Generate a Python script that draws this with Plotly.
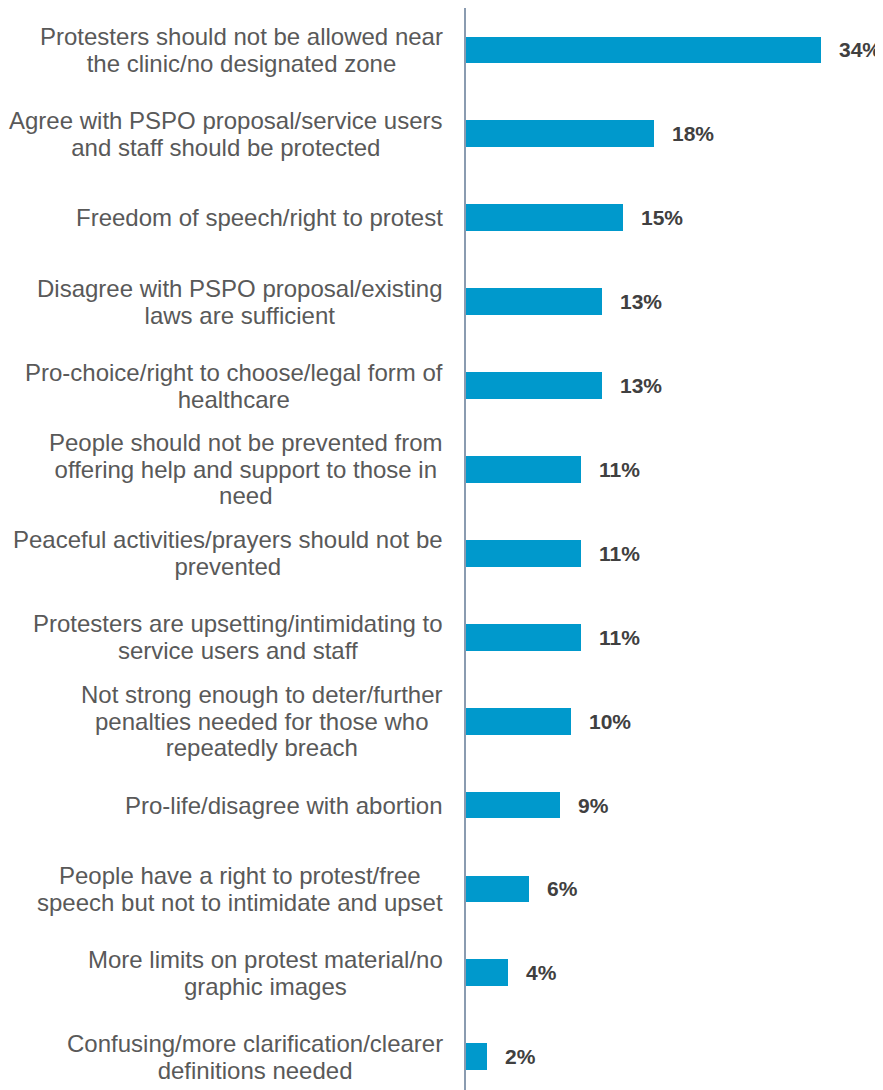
import plotly.graph_objects as go

categories = [
    "Protesters should not be allowed near<br>the clinic/no designated zone",
    "Agree with PSPO proposal/service users<br>and staff should be protected",
    "Freedom of speech/right to protest",
    "Disagree with PSPO proposal/existing<br>laws are sufficient",
    "Pro-choice/right to choose/legal form of<br>healthcare",
    "People should not be prevented from<br>offering help and support to those in<br>need",
    "Peaceful activities/prayers should not be<br>prevented",
    "Protesters are upsetting/intimidating to<br>service users and staff",
    "Not strong enough to deter/further<br>penalties needed for those who<br>repeatedly breach",
    "Pro-life/disagree with abortion",
    "People have a right to protest/free<br>speech but not to intimidate and upset",
    "More limits on protest material/no<br>graphic images",
    "Confusing/more clarification/clearer<br>definitions needed",
]
values = [34, 18, 15, 13, 13, 11, 11, 11, 10, 9, 6, 4, 2]
value_labels = ["34%", "18%", "15%", "13%", "13%", "11%", "11%", "11%", "10%", "9%", "6%", "4%", "2%"]

positions = list(range(len(categories)))

BAR_COLOR = "#0099CC"
FONT = "Liberation Sans, Arial, sans-serif"

fig = go.Figure()
fig.add_trace(go.Bar(
    x=values,
    y=positions,
    orientation="h",
    width=0.32,
    marker=dict(color=BAR_COLOR, line=dict(width=0)),
    hoverinfo="skip",
))

annotations = []
for pos, cat in zip(positions, categories):
    lines = cat.split("<br>")
    txt = "<br>".join('<span style="font-size:24px">' + ln + "</span>" for ln in lines)
    annotations.append(dict(
        xref="paper", yref="y", x=0, y=pos,
        xanchor="right", yanchor="middle", xshift=-21,
        text=txt, showarrow=False, align="center",
        font=dict(family=FONT, size=20.5, color="#595959"),
    ))
for pos, v, lab in zip(positions, values, value_labels):
    annotations.append(dict(
        xref="x", yref="y", x=v, y=pos,
        xanchor="left", yanchor="middle", xshift=16,
        text="<b>" + lab + "</b>", showarrow=False,
        font=dict(family=FONT, size=21, color="#404040"),
    ))

fig.update_layout(
    width=875, height=1082,
    margin=dict(l=458, r=0, t=0, b=0, pad=0),
    paper_bgcolor="white", plot_bgcolor="white",
    showlegend=False,
    bargap=0,
    annotations=annotations,
    xaxis=dict(range=[0, 39.9], visible=False, fixedrange=True),
    yaxis=dict(range=[12.396, -0.5], showticklabels=False, ticks="",
               showgrid=False, zeroline=False, showline=True,
               linecolor="#8A9BB0", linewidth=2, fixedrange=True),
)

fig.write_html("out.html")
